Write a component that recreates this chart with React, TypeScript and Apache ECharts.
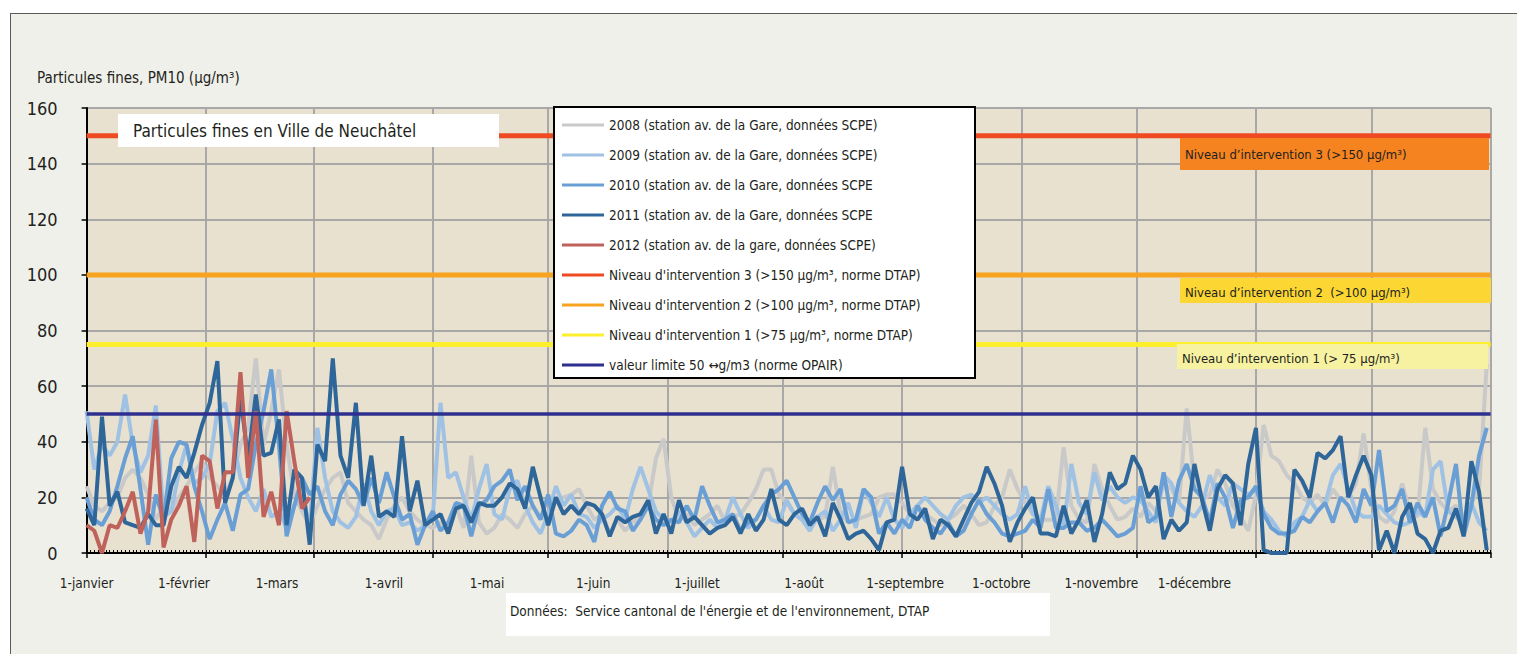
import { useEffect, useRef } from "react";
import * as echarts from "echarts";

const FONT = "'Liberation Sans Narrow', 'DejaVu Sans Condensed', 'Arial Narrow', sans-serif";
const TEXT = "#231f20";

// one value every DAY_STEP days, starting 1 January
const DAY_STEP = 2;
const DAYS_IN_YEAR = 365;
const monthStarts = [0, 31, 59, 90, 120, 151, 181, 212, 243, 273, 304, 334, 365];
const monthLabels = [
  "1-janvier", "1-février", "1-mars", "1-avril", "1-mai", "1-juin",
  "1-juillet", "1-août", "1-septembre", "1-octobre", "1-novembre", "1-décembre",
];
// where the reference prints its month labels (in days along the axis)
const monthLabelAt = [0, 25.3, 49.5, 77.3, 104.1, 131.7, 158.7, 186.5, 212.8, 237.8, 263.8, 288];

const pm2008 = [
  24, 17, 15, 18, 20, 27, 30, 27, 21, 12, 17, 15, 20, 24, 29, 33, 27, 24, 21, 27,
  39, 45, 70, 39, 51, 66, 39, 21, 15, 10, 17, 23, 27, 29, 18, 15, 12, 10, 5, 12,
  17, 20, 15, 12, 10, 9,
  11, 8, 17, 9, 35, 11, 7, 9, 14, 12, 9, 14, 17, 13, 12, 19, 20, 21, 23, 17,
  12, 14, 7, 12, 8, 11, 13, 17, 34, 41, 20, 12, 14, 10, 12, 14, 17, 11, 13, 14,
  18, 23, 30, 30, 21, 18,
  14, 12, 11, 12, 13, 31, 14, 11, 12, 13, 14, 20, 21, 21, 18, 14, 17, 14, 12, 10,
  12, 14, 17, 14, 10, 11, 17, 20, 30, 23, 18, 14, 12, 12, 12, 38, 17, 12, 11, 32,
  23, 17, 12, 13, 16,
  13, 18, 15, 25, 23, 18, 52, 25, 19, 21, 30, 25, 17, 13, 8, 21, 46, 35, 33, 28,
  25, 20, 18, 21, 17, 23, 19, 20, 25, 43, 23, 13, 11, 15, 25, 15, 13, 45, 23, 18,
  15, 17, 13, 18, 23, 68,
];
const pm2009 = [
  51, 30, 39, 35, 40, 57, 39, 29, 35, 53, 13, 15, 29, 39, 25, 27, 32, 51, 54, 41,
  27, 20, 15, 23, 13, 15, 9, 17, 20, 10, 45, 27, 15, 11, 9, 13, 25, 15, 10, 15,
  16, 10, 11, 8, 10, 13,
  54, 27, 29, 20, 12, 23, 32, 14, 12, 23, 26, 17, 11, 7, 14, 24, 17, 21, 14, 13,
  9, 12, 14, 17, 12, 23, 31, 23, 15, 12, 11, 15, 11, 6, 9, 12, 9, 12, 20, 14,
  9, 12, 17, 12, 11, 19,
  14, 12, 8, 13, 15, 8, 12, 18, 9, 23, 18, 13, 20, 12, 9, 14, 17, 20, 17, 14,
  12, 17, 20, 21, 18, 20, 17, 14, 12, 14, 24, 14, 12, 24, 17, 9, 32, 18, 14, 29,
  19, 24, 20, 18, 20,
  19, 15, 11, 28, 25, 18, 15, 13, 17, 28, 20, 17, 25, 23, 21, 23, 15, 12, 8, 6,
  11, 13, 19, 15, 18, 28, 32, 23, 15, 13, 13, 17, 14, 11, 10, 11, 15, 13, 30, 33,
  15, 13, 11, 18, 11, 8,
];
const pm2010 = [
  20, 12, 10, 15, 24, 34, 42, 23, 3, 21, 12, 34, 40, 39, 24, 15, 5, 12, 18, 8,
  21, 23, 39, 51, 66, 39, 6, 17, 27, 21, 24, 15, 10, 21, 26, 23, 17, 27, 18, 29,
  20, 12, 14, 3, 10, 15,
  8, 11, 18, 17, 6, 17, 19, 24, 26, 30, 19, 24, 17, 12, 21, 7, 6, 8, 12, 10,
  4, 17, 22, 16, 15, 8, 12, 17, 12, 10, 12, 11, 17, 12, 24, 17, 11, 12, 14, 8,
  11, 12, 17, 21, 23, 26,
  20, 14, 11, 18, 24, 19, 23, 11, 12, 23, 20, 7, 11, 7, 12, 9, 17, 12, 9, 7,
  11, 6, 8, 14, 19, 14, 11, 7, 6, 7, 8, 12, 9, 23, 9, 9, 11, 11, 8, 9,
  12, 9, 6, 7, 9,
  24, 11, 13, 29, 13, 26, 32, 23, 20, 11, 25, 20, 9, 19, 20, 24, 14, 9, 7, 7,
  8, 13, 11, 15, 18, 11, 20, 17, 11, 23, 17, 37, 15, 17, 23, 11, 18, 13, 20, 6,
  18, 32, 6, 17, 35, 45,
];
const pm2011 = [
  16, 10, 49, 17, 22, 11, 10, 9, 14, 10, 10, 24, 31, 27, 36, 46, 54, 69, 18, 27,
  56, 34, 57, 35, 36, 48, 10, 30, 27, 3, 39, 33, 70, 35, 27, 54, 17, 35, 13, 15,
  13, 42, 15, 26, 10, 12,
  14, 7, 16, 17, 11, 18, 17, 17, 20, 25, 23, 16, 31, 20, 10, 20, 14, 17, 14, 18,
  17, 14, 6, 13, 11, 13, 14, 19, 7, 14, 7, 19, 11, 13, 10, 7, 9, 10, 13, 7,
  14, 8, 12, 23, 12, 10,
  14, 16, 10, 13, 6, 18, 12, 5, 7, 8, 5, 1, 11, 12, 31, 14, 12, 16, 5, 12,
  10, 6, 12, 18, 22, 31, 25, 17, 4, 11, 16, 20, 7, 7, 6, 17, 7, 12, 19, 4,
  14, 29, 23, 25, 35,
  30, 20, 24, 5, 12, 8, 11, 32, 19, 8, 23, 28, 25, 10, 32, 45, 1, 0, 0, 0,
  30, 26, 20, 36, 34, 37, 42, 20, 28, 35, 28, 1, 8, 0, 13, 18, 7, 5, 0, 8,
  9, 16, 6, 33, 22, 1,
];
const pm2012 = [
  10, 8, 0, 10, 9, 15, 22, 7, 15, 48, 2, 12, 17, 24, 4, 35, 33, 16, 29, 29,
  65, 27, 51, 13, 22, 10, 51, 33, 16, 20,
];

const LEVEL_3 = 150;
const LEVEL_2 = 100;
const LEVEL_1 = 75;
const LIMIT = 50;

const seriesNames = [
  "2008 (station av. de la Gare, données SCPE)",
  "2009 (station av. de la Gare, données SCPE)",
  "2010 (station av. de la Gare, données SCPE",
  "2011 (station av. de la Gare, données SCPE",
  "2012 (station av. de la gare, données SCPE)",
  "Niveau d'intervention 3 (>150 µg/m³, norme DTAP)",
  "Niveau d'intervention 2 (>100 µg/m³, norme DTAP)",
  "Niveau d'intervention 1 (>75 µg/m³, norme DTAP)",
  "valeur limite 50 ↔g/m3 (norme OPAIR)",
];

const toPoints = (vals: number[]) => vals.map((v, i) => [i * DAY_STEP, v]);
const flat = (v: number) => [[0, v], [DAYS_IN_YEAR, v]];

function buildOption() {
  const dataSeries = [
    { name: seriesNames[0], data: toPoints(pm2008), color: "#c9c9c9", width: 4 },
    { name: seriesNames[1], data: toPoints(pm2009), color: "#9fc2e4", width: 4 },
    { name: seriesNames[2], data: toPoints(pm2010), color: "#6a9fd6", width: 4 },
    { name: seriesNames[3], data: toPoints(pm2011), color: "#2e6699", width: 4 },
    { name: seriesNames[4], data: toPoints(pm2012), color: "#bf625c", width: 4 },
    { name: seriesNames[5], data: flat(LEVEL_3), color: "#ef4b23", width: 5 },
    { name: seriesNames[6], data: flat(LEVEL_2), color: "#f8a31f", width: 5 },
    { name: seriesNames[7], data: flat(LEVEL_1), color: "#fdee2e", width: 5 },
    { name: seriesNames[8], data: flat(LIMIT), color: "#2e2f8e", width: 3.5 },
  ];

  const text = (x: number, y: number, t: string, size: number) => ({
    type: "text",
    x,
    y,
    z: 52,
    style: {
      text: t,
      fill: TEXT,
      fontSize: size,
      fontFamily: FONT,
      align: "left",
      verticalAlign: "middle",
    },
  });
  const box = (x: number, y: number, w: number, h: number, fill: string, stroke?: string) => ({
    type: "rect",
    z: 50,
    shape: { x, y, width: w, height: h },
    style: stroke ? { fill, stroke, lineWidth: 2 } : { fill },
  });

  return {
    animation: false,
    backgroundColor: "transparent",
    textStyle: { fontFamily: FONT, color: TEXT },
    grid: {
      left: 86.6,
      right: 26.4,
      top: 108,
      bottom: 101,
      show: true,
      backgroundColor: "#e8e1cf",
      borderWidth: 0,
    },
    legend: {
      orient: "vertical",
      left: 562,
      top: 118,
      padding: 0,
      z: 60,
      itemWidth: 42,
      itemHeight: 14,
      itemGap: 16,
      icon: "path://M0,6 L42,6 L42,9 L0,9 Z",
      textStyle: { fontFamily: FONT, fontSize: 13.5, color: TEXT },
      data: seriesNames,
    },
    xAxis: [
      {
        type: "value",
        min: 0,
        max: DAYS_IN_YEAR,
        position: "bottom",
        axisLine: { show: true, onZero: false, lineStyle: { color: "#000", width: 2 } },
        axisTick: { show: true, customValues: monthStarts, length: 5, lineStyle: { color: "#000", width: 1.5 } },
        axisLabel: { show: false },
        splitLine: { show: true, lineStyle: { color: "#a8a8a8", width: 2 } },
      },
      {
        type: "value",
        min: 0,
        max: DAYS_IN_YEAR,
        interval: 1,
        position: "bottom",
        axisLine: { show: false },
        axisTick: { show: true, inside: true, length: 3, lineStyle: { color: "#000", width: 1 } },
        axisLabel: { show: false },
        splitLine: { show: false },
      },
      {
        type: "value",
        min: 0,
        max: DAYS_IN_YEAR,
        position: "bottom",
        axisLine: { show: false },
        axisTick: { show: false },
        splitLine: { show: false },
        axisLabel: {
          show: true,
          customValues: monthLabelAt,
          margin: 23,
          fontSize: 13.5,
          fontFamily: FONT,
          color: TEXT,
          formatter: (v: number) => {
            const i = monthLabelAt.indexOf(v);
            return i >= 0 ? monthLabels[i] : "";
          },
        },
      },
    ],
    yAxis: {
      type: "value",
      min: 0,
      max: 160,
      interval: 20,
      axisLine: { show: true, lineStyle: { color: "#000", width: 2 } },
      axisTick: { show: true, length: 5, lineStyle: { color: "#000", width: 1.5 } },
      axisLabel: { fontSize: 18, fontFamily: FONT, color: TEXT, margin: 29 },
      splitLine: { show: true, lineStyle: { color: "#a8a8a8", width: 2 } },
    },
    series: dataSeries.map((s, i) => ({
      type: "line",
      name: s.name,
      data: s.data,
      xAxisIndex: 0,
      yAxisIndex: 0,
      symbol: "none",
      z: 2 + i * 0.01,
      itemStyle: { color: s.color },
      lineStyle: { color: s.color, width: s.width },
      emphasis: { disabled: true },
    })),
    graphic: {
      elements: [
        text(37, 78, "Particules fines, PM10 (µg/m³)", 15),
        box(118, 114, 381, 33, "#ffffff"),
        text(133, 131, "Particules fines en Ville de Neuchâtel", 17),
        box(554, 107, 421, 271, "#ffffff", "#000000"),
        box(1180, 138, 309, 32, "#f5831f"),
        text(1185, 154, "Niveau d’intervention 3 (>150 µg/m³)", 13),
        box(1180, 278, 311, 25, "#fcd633"),
        text(1185, 292, "Niveau d’intervention 2  (>100 µg/m³)", 13),
        box(1177, 344, 311, 25, "#f7f2a2"),
        text(1182, 358, "Niveau d’intervention 1 (> 75 µg/m³)", 13),
        box(506, 593, 544, 43, "#ffffff"),
        text(510, 611, "Données:  Service cantonal de l'énergie et de l'environnement, DTAP", 13.5),
      ],
    },
  };
}

export default function App() {
  const ref = useRef<HTMLDivElement>(null);
  useEffect(() => {
    if (!ref.current) return;
    const chart = echarts.init(ref.current, undefined, { renderer: "svg" });
    chart.setOption(buildOption() as any);
    return () => chart.dispose();
  }, []);
  return (
    <div style={{ position: "absolute", left: 0, top: 0, width: 1517, height: 654, overflow: "hidden", background: "#ffffff" }}>
      <div
        style={{
          position: "absolute",
          left: 10,
          top: 13,
          width: 1530,
          height: 670,
          background: "#f0f0ea",
          border: "1.5px solid #5a5a5a",
        }}
      />
      <div ref={ref} style={{ position: "absolute", left: 0, top: 0, width: 1517, height: 654 }} />
    </div>
  );
}
